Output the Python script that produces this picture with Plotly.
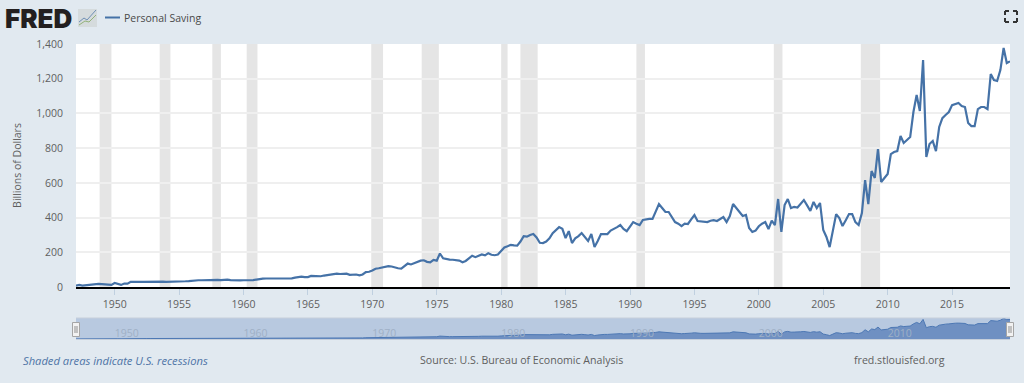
import pandas as pd
import plotly.graph_objects as go

# Personal Saving, billions of dollars, one row per year, quarterly, from 1947 Q1
saving_values = [
    8, 12, 8, 10,  14, 18, 20, 18,  17, 14, 13, 12,  23, 17, 12, 20,
    19, 30, 31, 30,  29, 29, 30, 31,  31, 32, 32, 31,  30, 30, 29, 29,
    29, 31, 33, 34,  37, 38, 39, 39,  40, 41, 41, 39,  41, 40, 42, 42,
    40, 38, 37, 38,  39, 38, 39, 40,  43, 47, 48, 49,  49, 49, 48, 48,
    48, 48, 49, 50,  54, 58, 60, 57,  57, 64, 62, 62,  62, 66, 69, 73,
    74, 77, 75, 76,  77, 70, 70, 72,  67, 72, 86, 88,  95, 105, 108, 112,
    117, 120, 118, 112,  108, 106, 118, 135,  130, 138, 143, 152,  154, 145, 142, 156,
    152, 193, 165, 160,  158, 157, 155, 152,  143, 150, 165, 180,  172, 178, 188, 182,
    195, 186, 183, 187,  205, 228, 235, 243,  240, 238, 262, 293,  290, 300, 305, 285,
    255, 253, 262, 280,  310, 325, 345, 335,  282, 322, 253, 280,  293, 311, 290, 265,
    305, 230, 265, 305,  305, 305, 325, 334,  345, 357, 335, 322,  345, 374, 365, 357,
    386, 390, 392, 392,  440, 478, 455, 432,  432, 405, 374, 365,  351, 365, 363, 390,
    415, 380, 378, 376,  374, 382, 385, 380,  390, 403, 374, 409,  478, 455, 432, 409,
    415, 340, 317, 325,  350, 365, 374, 334,  382, 357, 507, 318,  472, 507, 455, 462,
    458, 480, 501, 470,  438, 490, 455, 484,  328, 288, 230, 325,  420, 397, 351, 385,
    420, 420, 374, 357,  426, 616, 478, 668,  628, 795, 605, 628,  651, 766, 778, 783,
    870, 830, 847, 864,  1008, 1106, 1014, 1308,  749, 824, 841, 783,  922, 973, 991, 1008,
    1048, 1054, 1060, 1043,  1037, 945, 927, 927,  1025, 1037, 1037, 1025,  1227, 1192, 1187, 1250,
    1377, 1290, 1300,
]
recession_starts = ["1948-11-01", "1953-07-01", "1957-08-01", "1960-04-01", "1969-12-01", "1973-11-01",
                    "1980-01-01", "1981-07-01", "1990-07-01", "2001-03-01", "2007-12-01"]
recession_ends = ["1949-10-01", "1954-05-01", "1958-04-01", "1961-02-01", "1970-11-01", "1975-03-01",
                  "1980-07-01", "1982-11-01", "1991-03-01", "2001-11-01", "2009-06-01"]
series_name = "Personal Saving"
y_title = "Billions of Dollars"

dates = pd.date_range("1947-01-01", periods=len(saving_values), freq="QS")
W, H = 1024, 385
BG = "#e1e9f0"
TXT = "#5f5f5f"
FONT = "Open Sans"


def px(x):
    return x / W


def py(y):
    return 1 - y / H


def rect(x0, y0, x1, y1, fill, line=None, lw=0):
    return dict(type="rect", xref="paper", yref="paper", x0=px(x0), x1=px(x1), y0=py(y0), y1=py(y1),
                fillcolor=fill, line=dict(color=line or fill, width=lw), layer="above")


def seg(x0, y0, x1, y1, color, lw):
    return dict(type="line", xref="paper", yref="paper", x0=px(x0), x1=px(x1), y0=py(y0), y1=py(y1),
                line=dict(color=color, width=lw), layer="above")


def text(x, y, s, size=10.5, color=TXT, anchor="left", weight=None, family=FONT):
    return dict(xref="paper", yref="paper", x=px(x), y=py(y), text=s, showarrow=False, xanchor=anchor,
                yanchor="middle", borderpad=0, borderwidth=0,
                font=dict(family=family, size=size, color=color, weight=weight))


fig = go.Figure()
fig.add_trace(go.Scatter(x=dates, y=saving_values, mode="lines", name=series_name,
                         line=dict(color="#4572a7", width=2.2), hoverinfo="x+y", showlegend=False))
fig.add_trace(go.Scatter(x=dates, y=saving_values, mode="lines", xaxis="x2", yaxis="y2", fill="tozeroy",
                         fillcolor="#6f90c2", line=dict(color="#4d78b4", width=1), showlegend=False,
                         hoverinfo="skip"))

shapes = [dict(type="rect", xref="x", yref="y domain", x0=a, x1=b, y0=0, y1=1, fillcolor="#e5e5e5",
               line=dict(width=0), layer="below") for a, b in zip(recession_starts, recession_ends)]

# legend key
shapes.append(seg(105, 17.5, 120, 17.5, "#4572a7", 2))
# logo chart icon
shapes.append(rect(78, 9, 97, 27, "#d5dbdd"))
shapes.append(dict(type="path", xref="paper", yref="paper",
                   path=f"M{px(79)},{py(22)} L{px(84)},{py(18)} L{px(87)},{py(20)} L{px(96)},{py(10)}",
                   line=dict(color="#6f8fb5", width=1), layer="above"))
shapes.append(dict(type="path", xref="paper", yref="paper",
                   path=f"M{px(79)},{py(25)} L{px(85)},{py(21)} L{px(89)},{py(22)} L{px(96)},{py(15)}",
                   line=dict(color="#93b27a", width=1), layer="above"))
# fullscreen icon
for x, y, dx, dy in [(1005, 11, 4, 4), (1017, 11, -4, 4), (1005, 22, 4, -4), (1017, 22, -4, -4)]:
    shapes.append(seg(x, y, x + dx, y, "#333333", 2))
    shapes.append(seg(x, y, x, y + dy, "#333333", 2))
# navigator borders and handles
shapes.append(seg(76, 318, 1010, 318, "#c6cfdb", 1))
shapes.append(seg(76, 339.5, 1010, 339.5, "#c6cfdb", 1))
for x0 in (72.5, 1006.5):
    shapes.append(rect(x0, 322.5, x0 + 7, 336.5, "#f2f2f2", "#a5a5a5", 1))
    shapes.append(seg(x0 + 2.5, 326, x0 + 2.5, 333, "#8f8f8f", 1))
    shapes.append(seg(x0 + 4.5, 326, x0 + 4.5, 333, "#8f8f8f", 1))
# page edge
shapes.append(rect(0, 383, 1024, 385, "#ffffff"))

annotations = [
    text(4.5, 18, "FRED", size=26, color="#231f20", family="Inter", weight=900),
    text(124, 18, series_name, size=10.5, color="#4a4a4a"),
    text(23, 360, "<i>Shaded areas indicate U.S. recessions</i>", size=11.2, color="#4e74a6"),
    text(420, 360, "Source: U.S. Bureau of Economic Analysis", size=10.6),
    text(854, 360, "fred.stlouisfed.org", size=10.6),
]

fig.update_layout(
    width=W, height=H, margin=dict(l=0, r=0, t=0, b=0, pad=0, autoexpand=False), paper_bgcolor=BG,
    plot_bgcolor="#ffffff",
    showlegend=False, shapes=shapes, annotations=annotations, font=dict(family=FONT, size=10.5, color=TXT),
    xaxis=dict(domain=[px(76), px(1010)], anchor="y", type="date", range=[dates[0], dates[-1]],
               dtick="M60", tick0="1950-01-01", tickformat="%Y", showgrid=False, ticks="outside", ticklen=6,
               tickcolor="#c0d0e0", showline=True, linecolor="#000000", linewidth=2, zeroline=False),
    yaxis=dict(domain=[py(287), py(44)], anchor="x", range=[0, 1400], dtick=200, tickformat=",",
               gridcolor="#efefef", gridwidth=1.5, zeroline=False, ticks="", ticklabelstandoff=12,
               title=dict(text=y_title, standoff=12, font=dict(size=10.5, color=TXT))),
    xaxis2=dict(domain=[px(76), px(1010)], anchor="y2", type="date", range=[dates[0], dates[-1]],
                dtick="M120", tick0="1950-01-01", tickformat="%Y", showgrid=False, ticks="",
                ticklabelposition="inside right", ticklabelstandoff=-6,
                tickfont=dict(size=10.5, color="#9fb0c6"), zeroline=False),
    yaxis2=dict(domain=[py(339), py(318)], anchor="x2", range=[0, 1400], showgrid=False, showticklabels=False,
                zeroline=False, ticks=""),
)
fig.add_shape(type="rect", xref="x2 domain", yref="y2 domain", x0=0, x1=1, y0=0, y1=1, fillcolor="#b8c9e0",
              line=dict(width=0), layer="below")

fig.write_html("out.html", config=dict(displayModeBar=False),
               post_script="document.body.style.margin='0';document.body.style.overflow='hidden';")
